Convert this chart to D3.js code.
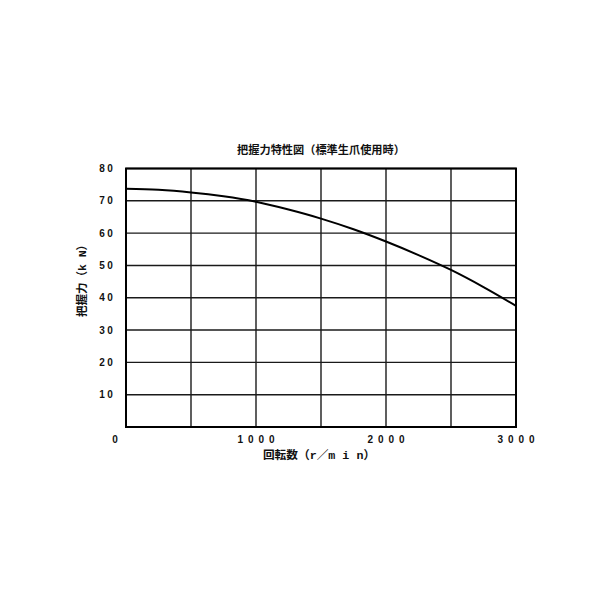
<!DOCTYPE html>
<html>
<head>
<meta charset="utf-8">
<script src="https://cdn.jsdelivr.net/npm/d3@7"></script>
<style>
  html, body { margin: 0; padding: 0; background: #fff; }
  svg { display: block; }
</style>
</head>
<body>
<svg id="chart" width="600" height="600"></svg>
<script>
// ---- data ----
const speeds = [0, 250, 500, 750, 1000, 1250, 1500, 1750, 2000, 2250, 2500, 2750, 3000];        // r/min
const grip   = [73.7, 73.4, 72.6, 71.4, 69.7, 67.3, 64.5, 61.2, 57.4, 53.2, 48.6, 43.3, 37.5]; // kN
const xGrid  = [0, 500, 1000, 1500, 2000, 2500, 3000];
const xTickLabels = [0, 1000, 2000, 3000];
const yGrid  = [0, 10, 20, 30, 40, 50, 60, 70, 80];
const yTickLabels = [10, 20, 30, 40, 50, 60, 70, 80];
const title  = "把握力特性図（標準生爪使用時）";
const xTitle = "回転数（r／m i n）";
const yTitle = "把握力（k N）";

const svg = d3.select("#chart");
const pLeft = 126, pRight = 516, pTop = 168.5, pBottom = 427;
const x = d3.scaleLinear().domain([0, 3000]).range([pLeft, pRight]);
const y = d3.scaleLinear().domain([0, 80]).range([pBottom, pTop]);

const cjk = "'Noto Sans CJK JP', 'Noto Sans', sans-serif";
const mono = "'Liberation Mono', 'Noto Sans CJK JP', monospace";

// grid
const g = svg.append("g");
g.selectAll("line.v").data(xGrid).join("line")
  .attr("x1", d => x(d)).attr("x2", d => x(d))
  .attr("y1", pTop).attr("y2", pBottom)
  .attr("stroke", "#1a1a1a").attr("stroke-width", 1.4);
g.selectAll("line.h").data(yGrid).join("line")
  .attr("x1", pLeft).attr("x2", pRight)
  .attr("y1", d => y(d)).attr("y2", d => y(d))
  .attr("stroke", "#1a1a1a").attr("stroke-width", 1.4);

// frame
svg.append("rect")
  .attr("x", pLeft).attr("y", pTop)
  .attr("width", pRight - pLeft).attr("height", pBottom - pTop)
  .attr("fill", "none").attr("stroke", "#000").attr("stroke-width", 2);

// curve
const line = d3.line()
  .x((d, i) => x(speeds[i]))
  .y(d => y(d))
  .curve(d3.curveMonotoneX);
svg.append("path")
  .datum(grip)
  .attr("d", line)
  .attr("fill", "none")
  .attr("stroke", "#000")
  .attr("stroke-width", 2);

// y tick labels
svg.selectAll("text.yt").data(yTickLabels).join("text")
  .attr("x", 115.5).attr("y", d => y(d))
  .attr("dy", "0.36em")
  .attr("text-anchor", "end")
  .attr("font-family", "'Liberation Sans', Arial, sans-serif")
  .attr("font-weight", "bold")
  .attr("font-size", 10)
  .attr("letter-spacing", "2.6px")
  .attr("fill", "#111")
  .text(d => String(d));

// x tick labels
svg.selectAll("text.xt").data(xTickLabels).join("text")
  .attr("x", d => d === 0 ? x(d) - 8.5 : x(d) + 2.5)
  .attr("y", 439)
  .attr("dy", "0.36em")
  .attr("text-anchor", "middle")
  .attr("font-family", "'Liberation Sans', Arial, sans-serif")
  .attr("font-weight", "bold")
  .attr("font-size", 10)
  .attr("letter-spacing", "5px")
  .attr("fill", "#111")
  .text(d => String(d));

// title
svg.append("text")
  .attr("x", 321).attr("y", 150)
  .attr("dy", "0.36em")
  .attr("text-anchor", "middle")
  .attr("font-family", cjk)
  .attr("font-weight", "bold")
  .attr("font-size", 11.2)
  .attr("fill", "#111")
  .text(title);

// x axis title
svg.append("text")
  .attr("x", 319).attr("y", 455)
  .attr("dy", "0.36em")
  .attr("text-anchor", "middle")
  .attr("font-family", mono)
  .attr("font-weight", "bold")
  .attr("font-size", 11.7)
  .attr("fill", "#111")
  .text(xTitle);

// y axis title
svg.append("text")
  .attr("transform", "translate(82,278) rotate(-90)")
  .attr("dy", "0.36em")
  .attr("text-anchor", "middle")
  .attr("font-family", mono)
  .attr("font-weight", "bold")
  .attr("font-size", 11.5)
  .attr("fill", "#111")
  .text(yTitle);
</script>
</body>
</html>
